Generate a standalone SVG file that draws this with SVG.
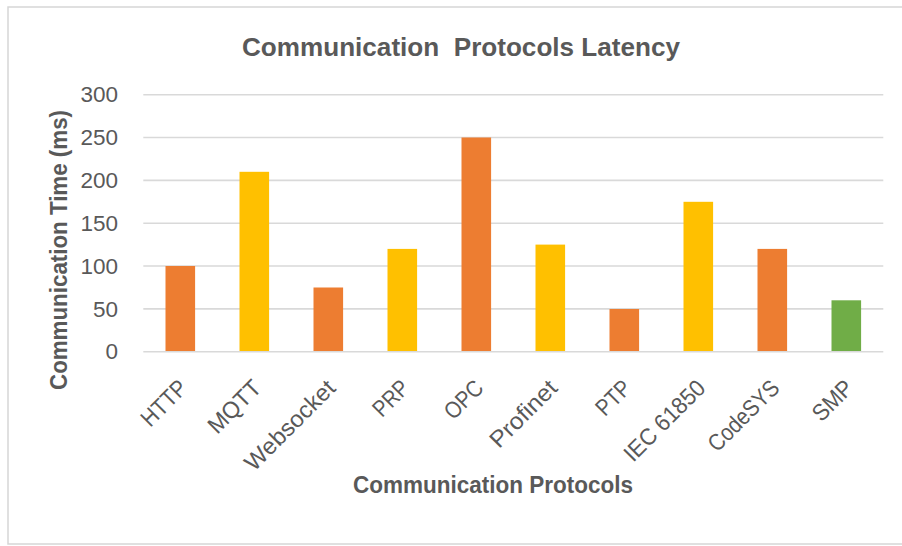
<svg xmlns="http://www.w3.org/2000/svg" width="902" height="546" viewBox="0 0 902 546">
  <style>
    .frame { fill: #ffffff; stroke: #d6d6d6; stroke-width: 1.5; }
    .grid { stroke: #d9d9d9; stroke-width: 1.6; fill: none; }
    .axis { stroke: #d9d9d9; stroke-width: 1.6; fill: none; }
    .orange { fill: #ED7D31; }
    .yellow { fill: #FFC000; }
    .green { fill: #70AD47; }
    .tick { font-family: "Liberation Sans", Arial, sans-serif; font-size: 22.5px; fill: #595959; }
    .ytick { text-anchor: end; }
    .cat { text-anchor: end; font-size: 23.5px; }
    .title { font-family: "Liberation Sans", Arial, sans-serif; font-weight: bold; fill: #595959; text-anchor: middle; }
  </style>

  <!-- chart area -->
  <rect x="0" y="0" width="902" height="546" fill="#ffffff"/>
  <rect class="frame" x="8" y="7" width="910" height="537"/>

  <!-- chart title -->
  <text id="chart-title" class="title" x="461" y="56" font-size="25" textLength="438" lengthAdjust="spacingAndGlyphs" xml:space="preserve" style="white-space: pre">Communication  Protocols Latency</text>

  <!-- horizontal gridlines (0..300 step 50) -->
  <g id="gridlines">
    <line class="grid" x1="143.3" y1="94.7" x2="883.3" y2="94.7"/>
    <line class="grid" x1="143.3" y1="137.5" x2="883.3" y2="137.5"/>
    <line class="grid" x1="143.3" y1="180.4" x2="883.3" y2="180.4"/>
    <line class="grid" x1="143.3" y1="223.2" x2="883.3" y2="223.2"/>
    <line class="grid" x1="143.3" y1="266.0" x2="883.3" y2="266.0"/>
    <line class="grid" x1="143.3" y1="308.9" x2="883.3" y2="308.9"/>
  </g>

  <!-- y axis tick labels -->
  <g id="y-ticks" class="tick ytick">
    <text x="118" y="102.4">300</text>
    <text x="118" y="145.2">250</text>
    <text x="118" y="188.1">200</text>
    <text x="118" y="230.9">150</text>
    <text x="118" y="273.7">100</text>
    <text x="118" y="316.6">50</text>
    <text x="118" y="359.4">0</text>
  </g>

  <!-- bars: width 29.6, baseline y=351.7, 0.8567 px per ms -->
  <g id="bars">
    <g id="bar-http"><rect class="orange" x="165.5" y="266.0" width="29.6" height="85.7"/></g>
    <g id="bar-mqtt"><rect class="yellow" x="239.5" y="171.8" width="29.6" height="179.9"/></g>
    <g id="bar-websocket"><rect class="orange" x="313.5" y="287.5" width="29.6" height="64.2"/></g>
    <g id="bar-prp"><rect class="yellow" x="387.5" y="248.9" width="29.6" height="102.8"/></g>
    <g id="bar-opc"><rect class="orange" x="461.5" y="137.5" width="29.6" height="214.2"/></g>
    <g id="bar-profinet"><rect class="yellow" x="535.5" y="244.6" width="29.6" height="107.1"/></g>
    <g id="bar-ptp"><rect class="orange" x="609.5" y="309.0" width="29.6" height="42.7"/></g>
    <g id="bar-iec61850"><rect class="yellow" x="683.5" y="201.8" width="29.6" height="149.9"/></g>
    <g id="bar-codesys"><rect class="orange" x="757.5" y="248.9" width="29.6" height="102.8"/></g>
    <g id="bar-smp"><rect class="green" x="831.5" y="300.3" width="29.6" height="51.4"/></g>
  </g>

  <!-- category axis line -->
  <line class="axis" x1="143.3" y1="351.7" x2="883.3" y2="351.7"/>

  <!-- category labels, rotated -45deg, anchored at their end -->
  <g id="x-ticks" class="tick cat">
    <text transform="translate(188.8,389.5) rotate(-45)" textLength="54.5" lengthAdjust="spacingAndGlyphs">HTTP</text>
    <text transform="translate(262.8,389.5) rotate(-45)" textLength="64.5" lengthAdjust="spacingAndGlyphs">MQTT</text>
    <text transform="translate(336.8,389.5) rotate(-45)" textLength="117" lengthAdjust="spacingAndGlyphs">Websocket</text>
    <text transform="translate(410.8,389.5) rotate(-45)" textLength="40.6" lengthAdjust="spacingAndGlyphs">PRP</text>
    <text transform="translate(484.8,389.5) rotate(-45)" textLength="44.1" lengthAdjust="spacingAndGlyphs">OPC</text>
    <text transform="translate(558.8,389.5) rotate(-45)" textLength="84.6" lengthAdjust="spacingAndGlyphs">Profinet</text>
    <text transform="translate(632.8,389.5) rotate(-45)" textLength="39.2" lengthAdjust="spacingAndGlyphs">PTP</text>
    <text transform="translate(706.8,389.5) rotate(-45)" textLength="104" lengthAdjust="spacingAndGlyphs">IEC 61850</text>
    <text transform="translate(780.8,389.5) rotate(-45)" textLength="89.8" lengthAdjust="spacingAndGlyphs">CodeSYS</text>
    <text transform="translate(854.8,389.5) rotate(-45)" textLength="47.2" lengthAdjust="spacingAndGlyphs">SMP</text>
  </g>

  <!-- axis titles -->
  <text id="x-title" class="title" x="493" y="493" font-size="23" textLength="280" lengthAdjust="spacingAndGlyphs">Communication Protocols</text>
  <text id="y-title" class="title" transform="translate(67,250) rotate(-90)" font-size="23" textLength="280" lengthAdjust="spacingAndGlyphs">Communication Time (ms)</text>
</svg>
